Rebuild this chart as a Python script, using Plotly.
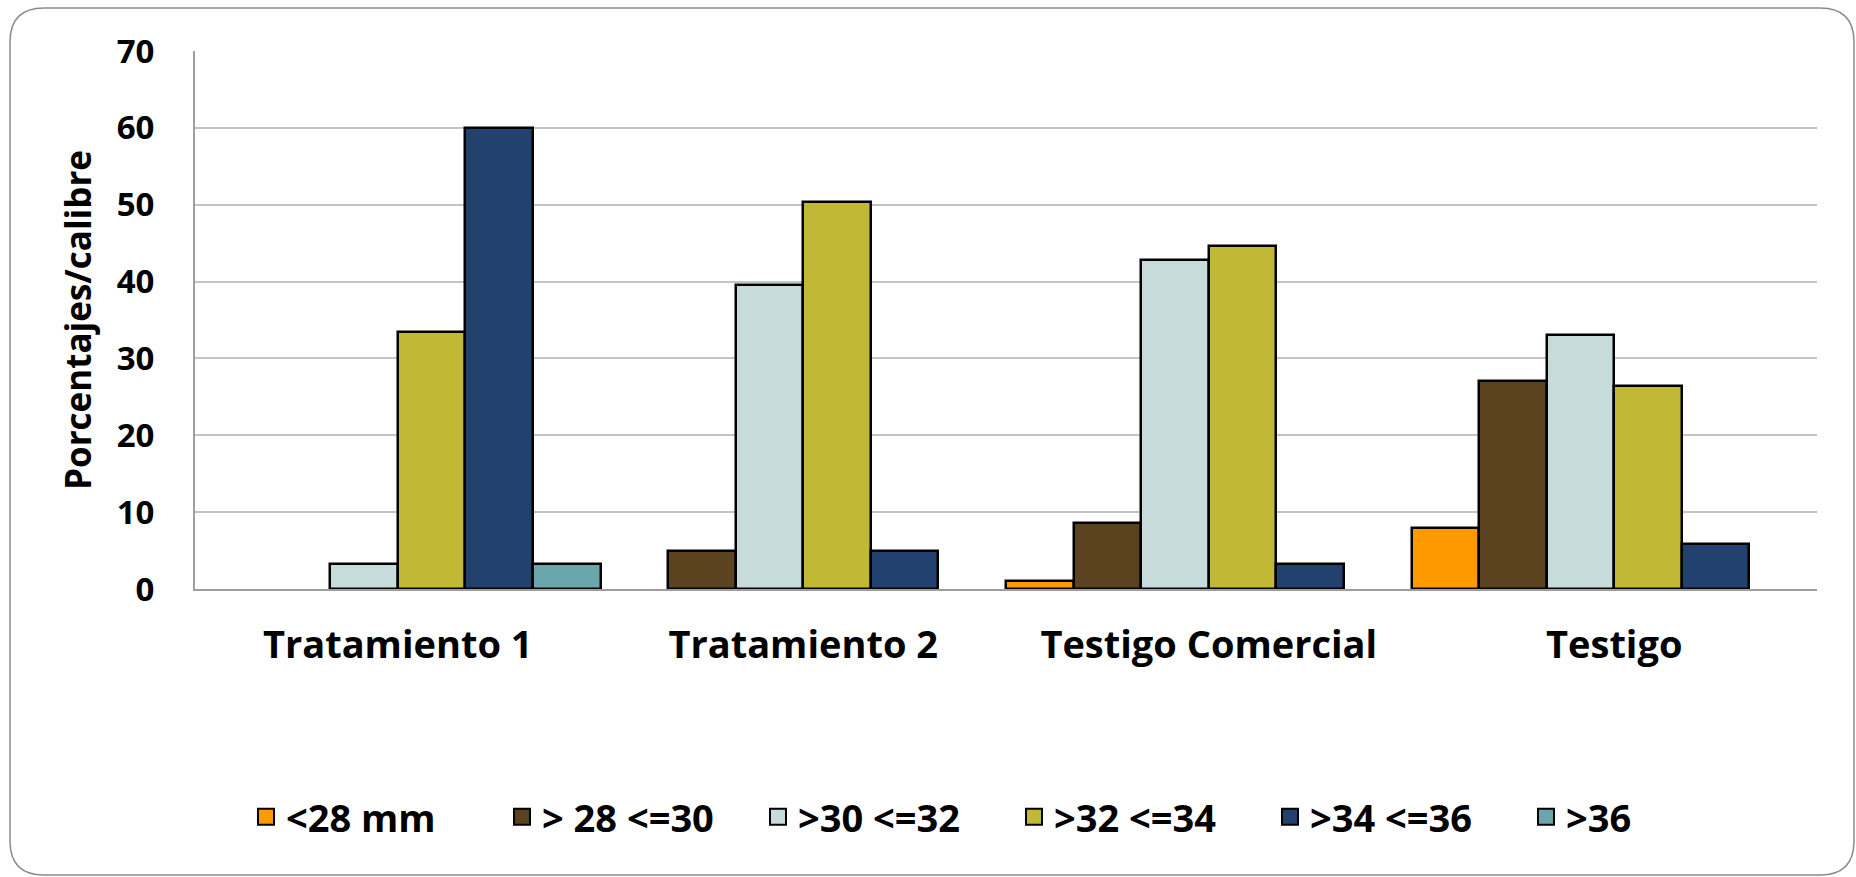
import plotly.graph_objects as go

# ---------------- data ----------------
categories = ["Tratamiento 1", "Tratamiento 2", "Testigo Comercial", "Testigo"]
series_names = ["<28 mm", "> 28 <=30", ">30 <=32", ">32 <=34", ">34 <=36", ">36"]
lt28 = [0, 0, 1.0, 7.9]
r28_30 = [0, 5.0, 8.6, 27.1]
r30_32 = [3.3, 39.6, 42.8, 33.0]
r32_34 = [33.4, 50.4, 44.6, 26.4]
r34_36 = [60.0, 5.0, 3.2, 5.9]
gt36 = [3.3, 0, 0, 0]
y_ticks = [0, 10, 20, 30, 40, 50, 60, 70]

series_values = [lt28, r28_30, r30_32, r32_34, r34_36, gt36]
colors = ["#FF9900", "#5C4320", "#C8DBDB", "#C1B935", "#23416E", "#6AA7AD"]

W, H = 1856, 877
L, R, T, B = 195, 39, 51, 288
FONT = "Open Sans"

fig = go.Figure()
for name, vals, col in zip(series_names, series_values, colors):
    fig.add_trace(go.Bar(
        name=name,
        x=categories,
        y=[v if v else None for v in vals],
        marker=dict(color=col, line=dict(color="#000000", width=2.5)),
        showlegend=False,
        legendgroup=name,
    ))
# legend entries (larger square swatches)
for name, col in zip(series_names, colors):
    fig.add_trace(go.Scatter(
        name=name, x=[None], y=[None], mode="markers",
        marker=dict(symbol="square", size=16, color=col,
                    line=dict(color="#000000", width=2)),
        legendgroup=name, showlegend=True, hoverinfo="skip",
    ))

# rounded chart border (decoration, in paper coordinates)
pw, ph = W - L - R, H - T - B
def px(x):
    return (x - L) / pw
def py(y):
    return (H - B - y) / ph
x0, x1, y0, y1, r = 10, 1854, 8, 875, 34
path = (f"M {px(x0 + r)},{py(y0)} L {px(x1 - r)},{py(y0)} "
        f"Q {px(x1)},{py(y0)} {px(x1)},{py(y0 + r)} "
        f"L {px(x1)},{py(y1 - r)} Q {px(x1)},{py(y1)} {px(x1 - r)},{py(y1)} "
        f"L {px(x0 + r)},{py(y1)} Q {px(x0)},{py(y1)} {px(x0)},{py(y1 - r)} "
        f"L {px(x0)},{py(y0 + r)} Q {px(x0)},{py(y0)} {px(x0 + r)},{py(y0)} Z")
fig.add_shape(type="path", path=path, xref="paper", yref="paper",
              line=dict(color="#8C8C8C", width=1.5), layer="below")

fig.update_layout(
    width=W, height=H,
    margin=dict(l=L, r=R, t=T, b=B),
    paper_bgcolor="white", plot_bgcolor="white",
    barmode="group", bargap=0, bargroupgap=0,
    font=dict(family=FONT, color="#000000"),
    showlegend=True,
    legend=dict(
        orientation="h",
        xref="container", yref="container",
        x=246 / W, xanchor="left",
        y=1 - 817 / H, yanchor="middle",
        font=dict(family=FONT, size=38, weight=700, color="#000000"),
        entrywidth=211,
        traceorder="normal",
        bgcolor="rgba(0,0,0,0)",
    ),
    xaxis=dict(
        showgrid=False,
        showline=True, linecolor="#9E9E9E", linewidth=2,
        ticks="",
        tickfont=dict(family=FONT, size=38, weight=700, color="#000000"),
        ticklabelstandoff=21,
    ),
    yaxis=dict(
        range=[0, 70],
        tickvals=y_ticks,
        showgrid=True, gridcolor="#C4C4C4", gridwidth=2,
        showline=True, linecolor="#9E9E9E", linewidth=2,
        zeroline=False,
        ticks="",
        tickfont=dict(family=FONT, size=33, weight=700, color="#000000"),
        ticklabelstandoff=32,
        title=dict(text="Porcentajes/calibre",
                   font=dict(family=FONT, size=35, weight=700, color="#000000"),
                   standoff=14),
    ),
)

fig.write_html("out.html", config={"displayModeBar": False},
               post_script="document.body.style.margin='0';")
